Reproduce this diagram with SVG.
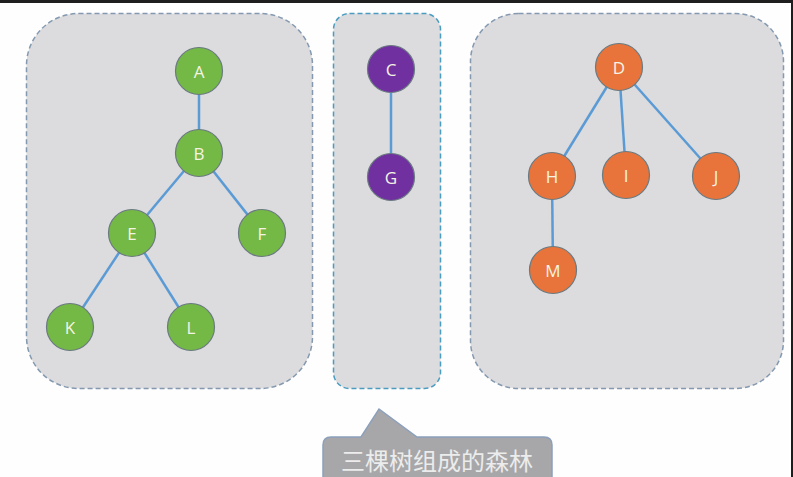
<svg xmlns="http://www.w3.org/2000/svg" width="793" height="477" viewBox="0 0 793 477">
<style>
.panel{fill:#dcdbde;stroke:#8499b0;stroke-width:1.5;stroke-dasharray:5 3}
.edge{stroke:#5b9bd5;stroke-width:2.5;fill:none}
.n circle{stroke:#6a7a80;stroke-width:1.2}
.g circle{fill:#74b846}
.p circle{fill:#7030a0}
.o circle{fill:#e8743b}
.n text{font-family:"Open Sans","Liberation Sans",sans-serif;font-size:17px;fill:#f4f4e4;text-anchor:middle;dominant-baseline:central}
.lbl{font-family:"Noto Sans CJK SC","Noto Sans",sans-serif;font-size:24px;fill:#ececec;text-anchor:middle}
</style>
<rect width="793" height="477" fill="#fefefe"/>
<rect x="0" y="0" width="793" height="3" fill="#1e1e1e"/>
<rect x="791" y="0" width="2" height="477" fill="#1e1e1e"/>
<g id="panels">
<rect class="panel" x="26.5" y="13.5" width="286" height="375" rx="52"/>
<rect class="panel" x="333.5" y="13.5" width="107" height="375" rx="16" style="stroke:#4a9cc0"/>
<rect class="panel" x="470.5" y="13.5" width="313" height="375" rx="48"/>
</g>
<g id="connectors">
<line class="edge" x1="199" y1="71" x2="199" y2="153"/>
<line class="edge" x1="199" y1="153" x2="132" y2="233"/>
<line class="edge" x1="199" y1="153" x2="262" y2="233"/>
<line class="edge" x1="132" y1="233" x2="70" y2="327"/>
<line class="edge" x1="132" y1="233" x2="191" y2="327"/>
<line class="edge" x1="391" y1="69" x2="391" y2="177"/>
<line class="edge" x1="619" y1="67" x2="552" y2="176"/>
<line class="edge" x1="619" y1="67" x2="626" y2="175"/>
<line class="edge" x1="619" y1="67" x2="716" y2="176"/>
<line class="edge" x1="552" y1="176" x2="553" y2="270"/>
</g>
<g id="A" class="n g"><circle cx="199" cy="71" r="23.5"/><text x="199" y="71">A</text></g>
<g id="B" class="n g"><circle cx="199" cy="153" r="23.5"/><text x="199" y="153">B</text></g>
<g id="E" class="n g"><circle cx="132" cy="233" r="23.5"/><text x="132" y="233">E</text></g>
<g id="F" class="n g"><circle cx="262" cy="233" r="23.5"/><text x="262" y="233">F</text></g>
<g id="K" class="n g"><circle cx="70" cy="327" r="23.5"/><text x="70" y="327">K</text></g>
<g id="L" class="n g"><circle cx="191" cy="327" r="23.5"/><text x="191" y="327">L</text></g>
<g id="C" class="n p"><circle cx="391" cy="69" r="23.5"/><text x="391" y="69">C</text></g>
<g id="G" class="n p"><circle cx="391" cy="177" r="23.5"/><text x="391" y="177">G</text></g>
<g id="D" class="n o"><circle cx="619" cy="67" r="23.5"/><text x="619" y="67">D</text></g>
<g id="H" class="n o"><circle cx="552" cy="176" r="23.5"/><text x="552" y="176">H</text></g>
<g id="I" class="n o"><circle cx="626" cy="175" r="23.5"/><text x="626" y="175">I</text></g>
<g id="J" class="n o"><circle cx="716" cy="176" r="23.5"/><text x="716" y="176">J</text></g>
<g id="M" class="n o"><circle cx="553" cy="270" r="23.5"/><text x="553" y="270">M</text></g>
<g id="callout">
<path d="M331,437 L361,437 L379,409 L417,437 L544,437 Q552,437 552,445 L552,480 L323,480 L323,445 Q323,437 331,437 Z" fill="#a7a7a9" stroke="#8ca0bc" stroke-width="1.5"/>
<text class="lbl" x="437" y="470">三棵树组成的森林</text>
</g>
</svg>
